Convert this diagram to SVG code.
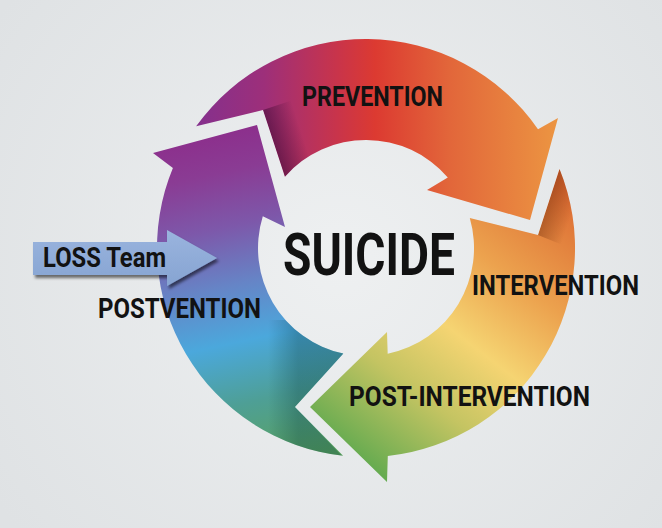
<svg xmlns="http://www.w3.org/2000/svg" width="662" height="528" viewBox="0 0 662 528">
  <defs>
    <radialGradient id="bg" cx="340" cy="260" r="420" gradientUnits="userSpaceOnUse">
      <stop offset="0" stop-color="#eef0f1"/>
      <stop offset="1" stop-color="#dfe2e4"/>
    </radialGradient>
    <linearGradient id="gTop" gradientUnits="userSpaceOnUse" x1="190" y1="0" x2="560" y2="0">
      <stop offset="0" stop-color="#82308f"/>
      <stop offset="0.2" stop-color="#9d2f7a"/>
      <stop offset="0.4" stop-color="#c9344a"/>
      <stop offset="0.5" stop-color="#dc3a31"/>
      <stop offset="0.7" stop-color="#e2663a"/>
      <stop offset="1" stop-color="#ec9642"/>
    </linearGradient>
    <linearGradient id="gRight" gradientUnits="userSpaceOnUse" x1="545" y1="170" x2="330" y2="450">
      <stop offset="0" stop-color="#dc6a32"/>
      <stop offset="0.3" stop-color="#eca24e"/>
      <stop offset="0.52" stop-color="#f5d472"/>
      <stop offset="0.72" stop-color="#c4c462"/>
      <stop offset="1" stop-color="#5aa84e"/>
    </linearGradient>
    <linearGradient id="gLeft" gradientUnits="userSpaceOnUse" x1="300" y1="460" x2="230" y2="130">
      <stop offset="0" stop-color="#5aa35e"/>
      <stop offset="0.2" stop-color="#4e9f96"/>
      <stop offset="0.38" stop-color="#4ba8dc"/>
      <stop offset="0.55" stop-color="#6684c6"/>
      <stop offset="0.72" stop-color="#7d58aa"/>
      <stop offset="0.88" stop-color="#8a3c94"/>
      <stop offset="1" stop-color="#8c2f8c"/>
    </linearGradient>
    <linearGradient id="shTop" gradientUnits="userSpaceOnUse" x1="274" y1="143" x2="302" y2="134">
      <stop offset="0" stop-color="#2a0020" stop-opacity="0.45"/>
      <stop offset="1" stop-color="#2a0020" stop-opacity="0"/>
    </linearGradient>
    <linearGradient id="shRight" gradientUnits="userSpaceOnUse" x1="549" y1="202" x2="573" y2="210">
      <stop offset="0" stop-color="#5a1a00" stop-opacity="0.35"/>
      <stop offset="1" stop-color="#5a1a00" stop-opacity="0"/>
    </linearGradient>
    <linearGradient id="shLeft" gradientUnits="userSpaceOnUse" x1="298" y1="407" x2="268" y2="407">
      <stop offset="0" stop-color="#00303a" stop-opacity="0.28"/>
      <stop offset="1" stop-color="#00303a" stop-opacity="0"/>
    </linearGradient>
    <linearGradient id="gLoss" x1="0" y1="0" x2="0" y2="1">
      <stop offset="0" stop-color="#9ab4de"/>
      <stop offset="1" stop-color="#86a4d2"/>
    </linearGradient>
    <clipPath id="cTop">
      <path d="M196.1,126.3 A209,209 0 0 1 538,129.3 L558,118 L530,220 L427,190 L447.8,177.4 A108,108 0 0 0 284.9,176.7 L263,110 Z"/>
    </clipPath>
    <clipPath id="cRight">
      <path d="M559.5,169 A209,209 0 0 1 387.8,455.9 L387,482 L310,407 L387,332 L387.7,353.8 A108,108 0 0 0 469.8,218.1 L538,235 Z"/>
    </clipPath>
    <clipPath id="cLeft">
      <path d="M343.1,455.7 A209,209 0 0 1 172.9,168 L153,153 L257,125 L285,227 L262.8,216.2 A108,108 0 0 0 343.4,353.6 L295,407 Z"/>
    </clipPath>
    <filter id="shadow" x="-20%" y="-30%" width="140%" height="170%">
      <feDropShadow dx="2" dy="3" stdDeviation="1.5" flood-color="#000" flood-opacity="0.55"/>
    </filter>
  </defs>
  <style>
    .lbl { font-family: Roboto, "DejaVu Sans", "Liberation Sans", sans-serif; font-weight: bold; fill: #121212; }
    .mid { font-size: 28px; }
    .big { font-size: 59px; }
  </style>

  <rect x="0" y="0" width="662" height="528" fill="url(#bg)"/>

  <g id="connectors">
    <g id="arrow-prevention">
      <path d="M196.1,126.3 A209,209 0 0 1 538,129.3 L558,118 L530,220 L427,190 L447.8,177.4 A108,108 0 0 0 284.9,176.7 L263,110 Z" fill="url(#gTop)"/>
      <polygon points="263,110 285,177 325,165 305,96" fill="url(#shTop)" clip-path="url(#cTop)"/>
    </g>
    <g id="arrow-intervention">
      <path d="M559.5,169 A209,209 0 0 1 387.8,455.9 L387,482 L310,407 L387,332 L387.7,353.8 A108,108 0 0 0 469.8,218.1 L538,235 Z" fill="url(#gRight)"/>
      <polygon points="559.5,169 538,235 580,252 595,172" fill="url(#shRight)" clip-path="url(#cRight)"/>
    </g>
    <g id="arrow-postvention">
      <path d="M343.1,455.7 A209,209 0 0 1 172.9,168 L153,153 L257,125 L285,227 L262.8,216.2 A108,108 0 0 0 343.4,353.6 L295,407 Z" fill="url(#gLeft)"/>
      <polygon points="343,320 343,355 295,407 343,457 240,475 240,320" fill="url(#shLeft)" clip-path="url(#cLeft)"/>
    </g>
  </g>

  <g id="node-suicide">
    <text class="lbl big" x="283" y="275" textLength="172" lengthAdjust="spacingAndGlyphs">SUICIDE</text>
  </g>
  <g id="node-prevention">
    <text class="lbl mid" x="302" y="106" textLength="141" lengthAdjust="spacingAndGlyphs">PREVENTION</text>
  </g>
  <g id="node-intervention">
    <text class="lbl mid" x="472" y="295" textLength="167" lengthAdjust="spacingAndGlyphs">INTERVENTION</text>
  </g>
  <g id="node-post-intervention">
    <text class="lbl mid" x="349" y="406" textLength="241" lengthAdjust="spacingAndGlyphs">POST-INTERVENTION</text>
  </g>
  <g id="node-postvention">
    <text class="lbl mid" x="98" y="318" textLength="163" lengthAdjust="spacingAndGlyphs">POSTVENTION</text>
  </g>
  <g id="node-loss-team">
    <path d="M33,242 L167,242 L167,230 L217,258 L167,286 L167,275 L33,275 Z" fill="url(#gLoss)" filter="url(#shadow)"/>
    <text class="lbl mid" x="43" y="267" textLength="123" lengthAdjust="spacingAndGlyphs">LOSS Team</text>
  </g>
</svg>
